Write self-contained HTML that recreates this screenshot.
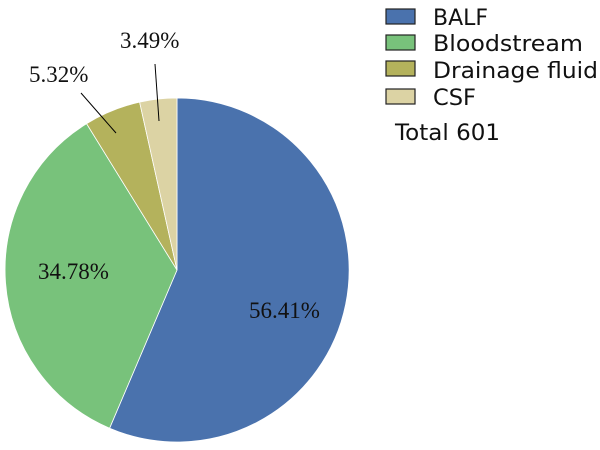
<!DOCTYPE html>
<html><head><style>body{margin:0;background:#fff}</style></head><body>
<svg width="600" height="445" xmlns="http://www.w3.org/2000/svg">
<g stroke="#fff" stroke-width="0.8">
<path d="M177,270 L177,98 A172,172 0 1,1 109.6,428.2 Z" fill="#4a72ad"/>
<path d="M177,270 L109.6,428.2 A172,172 0 0,1 86.6,123.7 Z" fill="#78c27b"/>
<path d="M177,270 L86.6,123.7 A172,172 0 0,1 139.6,102.1 Z" fill="#b4b25c"/>
<path d="M177,270 L139.6,102.1 A172,172 0 0,1 177,98 Z" fill="#dcd3a4"/>
</g>
<g stroke="#000" stroke-width="1">
<line x1="81" y1="93" x2="116" y2="133"/>
<line x1="155" y1="64" x2="159" y2="121"/>
</g>
<g font-family="Liberation Serif, serif" font-size="23" fill="#111">
<text x="249" y="318">56.41%</text>
<text x="38" y="279">34.78%</text>
<text x="29" y="82">5.32%</text>
<text x="120" y="48">3.49%</text>
</g>
<g stroke="#222" stroke-width="1.2">
<rect x="386" y="9" width="29" height="15" fill="#4a72ad"/>
<rect x="386" y="35" width="29" height="15" fill="#78c27b"/>
<rect x="386" y="61" width="29" height="15" fill="#b4b25c"/>
<rect x="386" y="89" width="29" height="15" fill="#dcd3a4"/>
</g>
<g font-family="DejaVu Sans, Liberation Sans, sans-serif" font-size="22" fill="#111" lengthAdjust="spacingAndGlyphs">
<text x="433" y="25" textLength="55" lengthAdjust="spacingAndGlyphs">BALF</text>
<text x="433" y="51" textLength="150" lengthAdjust="spacingAndGlyphs">Bloodstream</text>
<text x="433" y="78" textLength="165" lengthAdjust="spacingAndGlyphs">Drainage fluid</text>
<text x="433" y="105" textLength="43" lengthAdjust="spacingAndGlyphs">CSF</text>
<text x="395" y="140" textLength="105" lengthAdjust="spacingAndGlyphs">Total 601</text>
</g>
</svg>
</body></html>
